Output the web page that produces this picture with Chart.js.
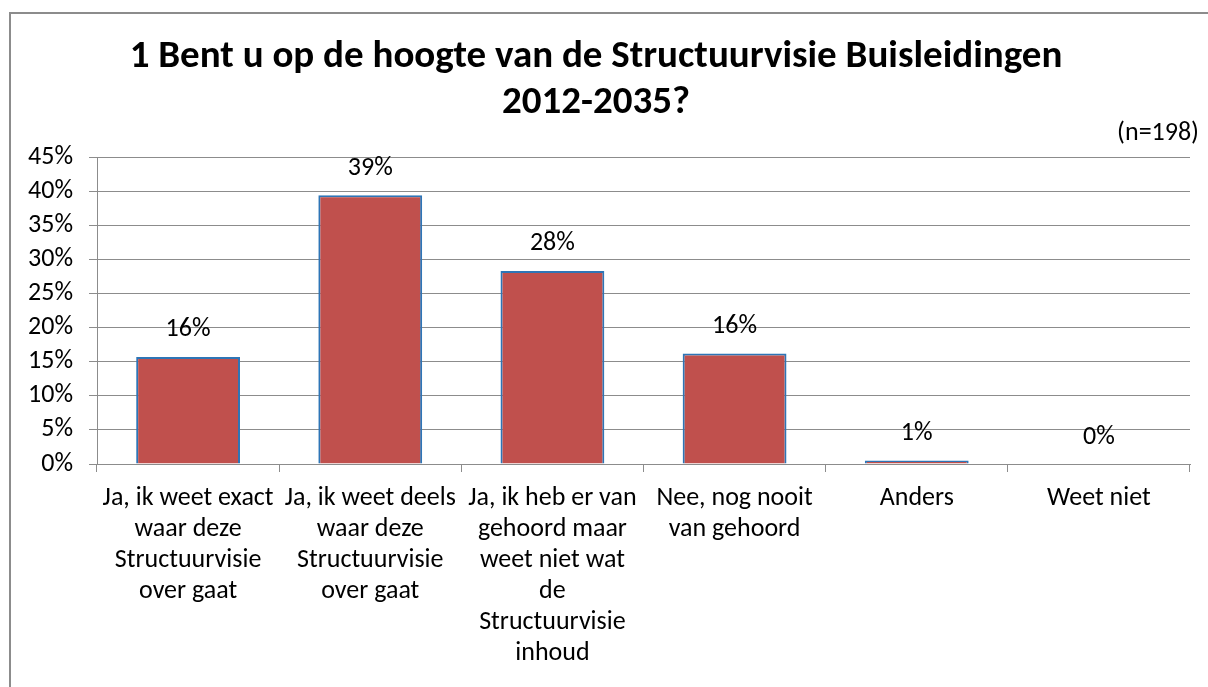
<!DOCTYPE html>
<html>
<head>
<meta charset="utf-8">
<script src="https://cdn.jsdelivr.net/npm/chart.js@4.4.1/dist/chart.umd.min.js"></script>
<style>
  html, body { margin: 0; padding: 0; background: #fff; overflow: hidden; }
  #frame { position: absolute; left: 9px; top: 12px; width: 1220px; height: 700px;
           border-left: 2px solid #8c8c8c; border-top: 2px solid #8c8c8c; }
  #wrap { position: absolute; left: 0; top: 0; width: 1208px; height: 687px; }
</style>
</head>
<body>
<div id="frame"></div>
<div id="wrap"><canvas id="chart"></canvas></div>
<script>
const FONT = "Carlito, 'Open Sans', sans-serif";

const titleLines = ['1 Bent u op de hoogte van de Structuurvisie Buisleidingen', '2012-2035?'];
const sampleNote = '(n=198)';
const categories = [
    ['Ja, ik weet exact', 'waar deze', 'Structuurvisie', 'over gaat'],
    ['Ja, ik weet deels', 'waar deze', 'Structuurvisie', 'over gaat'],
    ['Ja, ik heb er van', 'gehoord maar', 'weet niet wat', 'de', 'Structuurvisie', 'inhoud'],
    ['Nee, nog nooit', 'van gehoord'],
    ['Anders'],
    ['Weet niet']
];
const percentages = [15.7, 39.4, 28.3, 16.2, 0.5, 0];
const yTicks = [0, 5, 10, 15, 20, 25, 30, 35, 40, 45];

// title, n= note and the value labels above the bars
const overlay = {
    id: 'overlay',
    afterDatasetsDraw(chart) {
        const ctx = chart.ctx;
        ctx.save();
        ctx.fillStyle = '#000';
        ctx.textAlign = 'center';
        ctx.textBaseline = 'middle';
        ctx.font = 'bold 39px ' + FONT;
        ctx.fillText(titleLines[0], 596, 57);
        ctx.fillText(titleLines[1], 596, 103);

        ctx.font = '26px ' + FONT;
        ctx.textAlign = 'right';
        ctx.fillText(sampleNote, 1199, 133);

        ctx.textAlign = 'center';
        const meta = chart.getDatasetMeta(0);
        meta.data.forEach((bar, i) => {
            ctx.fillText(Math.round(percentages[i]) + '%', bar.x, bar.y - 27);
        });
        ctx.restore();
    }
};

new Chart(document.getElementById('chart'), {
    type: 'bar',
    data: {
        labels: categories,
        datasets: [{
            data: percentages,
            backgroundColor: '#C0504D',
            borderColor: '#2E75B6',
            borderWidth: 2,
            barPercentage: 0.57,
            categoryPercentage: 1
        }]
    },
    options: {
        responsive: true,
        maintainAspectRatio: false,
        animation: false,
        layout: { padding: { top: 157, right: 18, left: 0, bottom: 0 } },
        plugins: { legend: { display: false }, tooltip: { enabled: false } },
        scales: {
            y: {
                min: 0,
                max: 45,
                afterFit: s => { s.width = 97; },
                afterBuildTicks: s => { s.ticks = yTicks.map(v => ({ value: v })); },
                border: { color: '#8c8c8c', width: 1 },
                grid: { color: '#8c8c8c', lineWidth: 1, tickLength: 8 },
                ticks: { color: '#000', padding: 16, autoSkip: false,
                         font: { family: FONT, size: 26, lineHeight: 1 }, callback: v => v + '%' }
            },
            x: {
                afterFit: s => { s.height = 223; },
                border: { color: '#8c8c8c', width: 1 },
                grid: { drawOnChartArea: false, color: '#8c8c8c', tickLength: 8 },
                ticks: { color: '#000', padding: 11, maxRotation: 0, autoSkip: false,
                         font: { family: FONT, size: 26, lineHeight: 1.19 } }
            }
        }
    },
    plugins: [overlay]
});
</script>
</body>
</html>
